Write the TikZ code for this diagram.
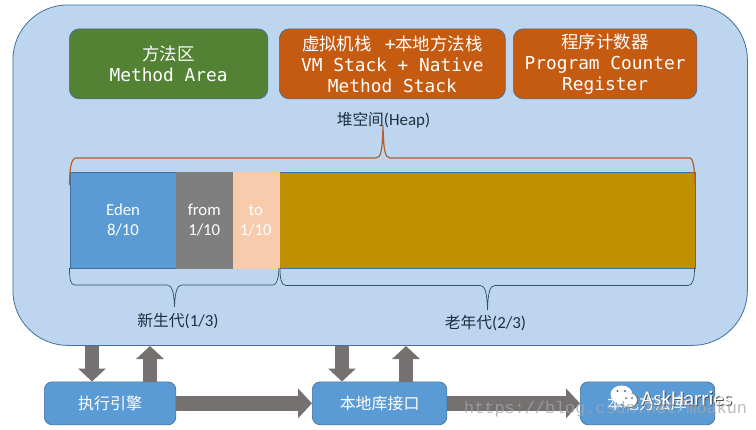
\documentclass[tikz,border=0pt]{standalone}
\usepackage{fontspec}
\setmainfont{Noto Sans CJK SC}
\newfontfamily\cnf{Noto Sans CJK SC}
\newfontfamily\lat{Carlito}
\newfontfamily\mono{DejaVu Sans Mono}
\newfontfamily\wm{Liberation Mono}
\usetikzlibrary{arrows.meta,calc}
\definecolor{bgblue}{HTML}{BDD5EE}
\definecolor{edgeb}{HTML}{41719C}
\definecolor{boxb}{HTML}{5B9BD5}
\definecolor{green1}{HTML}{548235}
\definecolor{orange1}{HTML}{C55A11}
\definecolor{gold1}{HTML}{BF9000}
\definecolor{gray1}{HTML}{7F7F7F}
\definecolor{peach}{HTML}{F8CBAD}
\definecolor{arrowg}{HTML}{767171}
\definecolor{txtd}{HTML}{1F2F40}
\definecolor{braced}{HTML}{2F5070}
\definecolor{braceo}{HTML}{B5602A}
\tikzset{
  x=1bp,y=-1bp,
  memory/.style={draw=edgeb,line width=.7pt,rounded corners=10bp,text=white,align=center,inner sep=0pt,font=\mono\fontsize{17.9}{21}\selectfont},
  cell/.style={draw=edgeb,line width=.5pt,text=white,align=center,inner sep=0pt,font=\lat\fontsize{16.8}{20}\selectfont},
  engine/.style={draw=edgeb,line width=.7pt,fill=boxb,rounded corners=8bp,text=white,inner sep=0pt,font=\cnf\fontsize{16}{18}\selectfont},
  lab/.style={text=txtd,inner sep=0pt,font=\cnf\fontsize{15.8}{18}\selectfont},
  flow/.style={-{Triangle[width=27bp,length=13bp]},arrowg,line width=14bp},
  flowh/.style={-{Triangle[width=29bp,length=14bp]},arrowg,line width=15bp},
}
\newcommand{\boxat}[5]{\node[#1,minimum width=#4,minimum height=#5,anchor=north west] at (#2,#3)}
\begin{document}
\begin{tikzpicture}
\useasboundingbox (0,0) rectangle (756,429);
\fill[white] (0,0) rectangle (756,429);
% panel
\node[draw=edgeb,line width=.8pt,fill=bgblue,rounded corners=55bp,minimum width=734.5bp,minimum height=340.5bp,anchor=north west,inner sep=0pt] (panel) at (12.5,4.5) {};
% top boxes
\boxat{memory,fill=green1}{69}{28.5}{198.5bp}{70bp} (method) {{\cnf\fontsize{17.5}{21}\selectfont 方法区}\\Method Area};
\boxat{memory,fill=orange1}{279}{28.5}{226bp}{70bp} (stack) {{\cnf\fontsize{17.5}{21}\selectfont 虚拟机栈}\hspace{13bp}+{\cnf\fontsize{17.5}{21}\selectfont 本地方法栈}\\VM Stack + Native\\Method Stack};
\boxat{memory,fill=orange1}{513}{28.5}{183.5bp}{70bp} (pc) {{\cnf\fontsize{17.5}{21}\selectfont 程序计数器}\\Program Counter\\Register};
\node[lab] (heap) at (383.5,120) {堆空间{\lat\fontsize{17}{18}\selectfont (Heap)}};
% heap cells
\boxat{cell,fill=gold1}{279}{172}{416bp}{96bp} (old) {};
\boxat{cell,fill=boxb}{70}{172}{105.5bp}{96bp} (eden) {Eden\\8/10};
\boxat{cell,fill=gray1,draw=gray1}{176}{172}{56bp}{96bp} (from) {from\\1/10};
\boxat{cell,fill=peach,draw=peach}{232.5}{172}{46bp}{96bp} (to) {to\\1/10};
% braces
\draw[braceo,line width=1.2pt] (69.5,185) .. controls (69.5,170) and (71,158) .. (76,158) -- (376,158) .. controls (381,158) and (382.5,150) .. (383,125) .. controls (383.5,150) and (385,158) .. (390,158) -- (690,158) .. controls (693,158) and (695,170) .. (695,185);
\draw[braced,line width=.7pt] (69.5,268) .. controls (69.5,278) and (70,285) .. (75,285) -- (167,285) .. controls (172,285) and (174,292) .. (174.5,307) .. controls (175,292) and (177,285) .. (182,285) -- (273,285) .. controls (277,285) and (278.5,278) .. (279,268);
\draw[braced,line width=.7pt] (280,268) .. controls (280,278) and (281,285.5) .. (286,285.5) -- (480,285.5) .. controls (485,285.5) and (487,292) .. (487.5,310) .. controls (488,292) and (490,285.5) .. (495,285.5) -- (688,285.5) .. controls (693,285.5) and (694.5,278) .. (694.5,268);
\node[lab] (young) at (178,321) {新生代{\lat\fontsize{17}{18}\selectfont (1/3)}};
\node[lab] (tenured) at (485.5,323) {老年代{\lat\fontsize{17}{18}\selectfont (2/3)}};
% bottom boxes
\boxat{engine}{44}{381.5}{131.5bp}{43bp} (exec) {执行引擎};
\boxat{engine}{312}{381.5}{134.5bp}{43bp} (native) {本地库接口};
\boxat{engine}{580}{381.5}{134.5bp}{43bp} (lib) {};
\node[text=white,inner sep=0pt,font=\cnf\fontsize{16}{18}\selectfont] (libtext) at (647,403) {本地方法库};
% arrows
\coordinate (a1) at (92,345.5); \coordinate (a1e) at (92,381.5);
\coordinate (a2) at (150,381.5); \coordinate (a2e) at (150,346);
\coordinate (a3) at (342,345.5); \coordinate (a3e) at (342,381.5);
\coordinate (a4) at (406,381.5); \coordinate (a4e) at (406,346);
\draw[flow] (a1) -- (a1e);
\draw[flow] (a2) -- (a2e);
\draw[flow] (a3) -- (a3e);
\draw[flow] (a4) -- (a4e);
\draw[flowh] (exec.east) -- (native.west);
\draw[flowh] (native.east) -- (lib.west);
% watermark icon
\fill[white] (621.5,394.5) ellipse (11bp and 9bp);
\fill[white] (618,403) -- (616,407) -- (622,403) -- cycle;
\fill[black!55] (630,400.5) ellipse (8.5bp and 7.5bp);
\fill[white] (629,400) ellipse (8bp and 7bp);
\fill[boxb!70!black] (617.5,391) circle (1.2bp) (625,391) circle (1.2bp) (626,398) circle (1bp) (632,398) circle (1bp);
% watermark text
\node[text=black!70,inner sep=0pt,anchor=west,font=\lat\fontsize{21}{22}\selectfont] (askshadow) at (642,399.5) {AskHarries};
\node[text=white,inner sep=0pt,anchor=west,font=\lat\fontsize{21}{22}\selectfont] (ask) at (641,398.5) {AskHarries};
\node[text=gray!70,opacity=.75,inner sep=0pt,anchor=west,font=\wm\fontsize{16.9}{18}\selectfont] (url) at (464,409) {https://blog.csdn.net/moakun};
\end{tikzpicture}
\end{document}
